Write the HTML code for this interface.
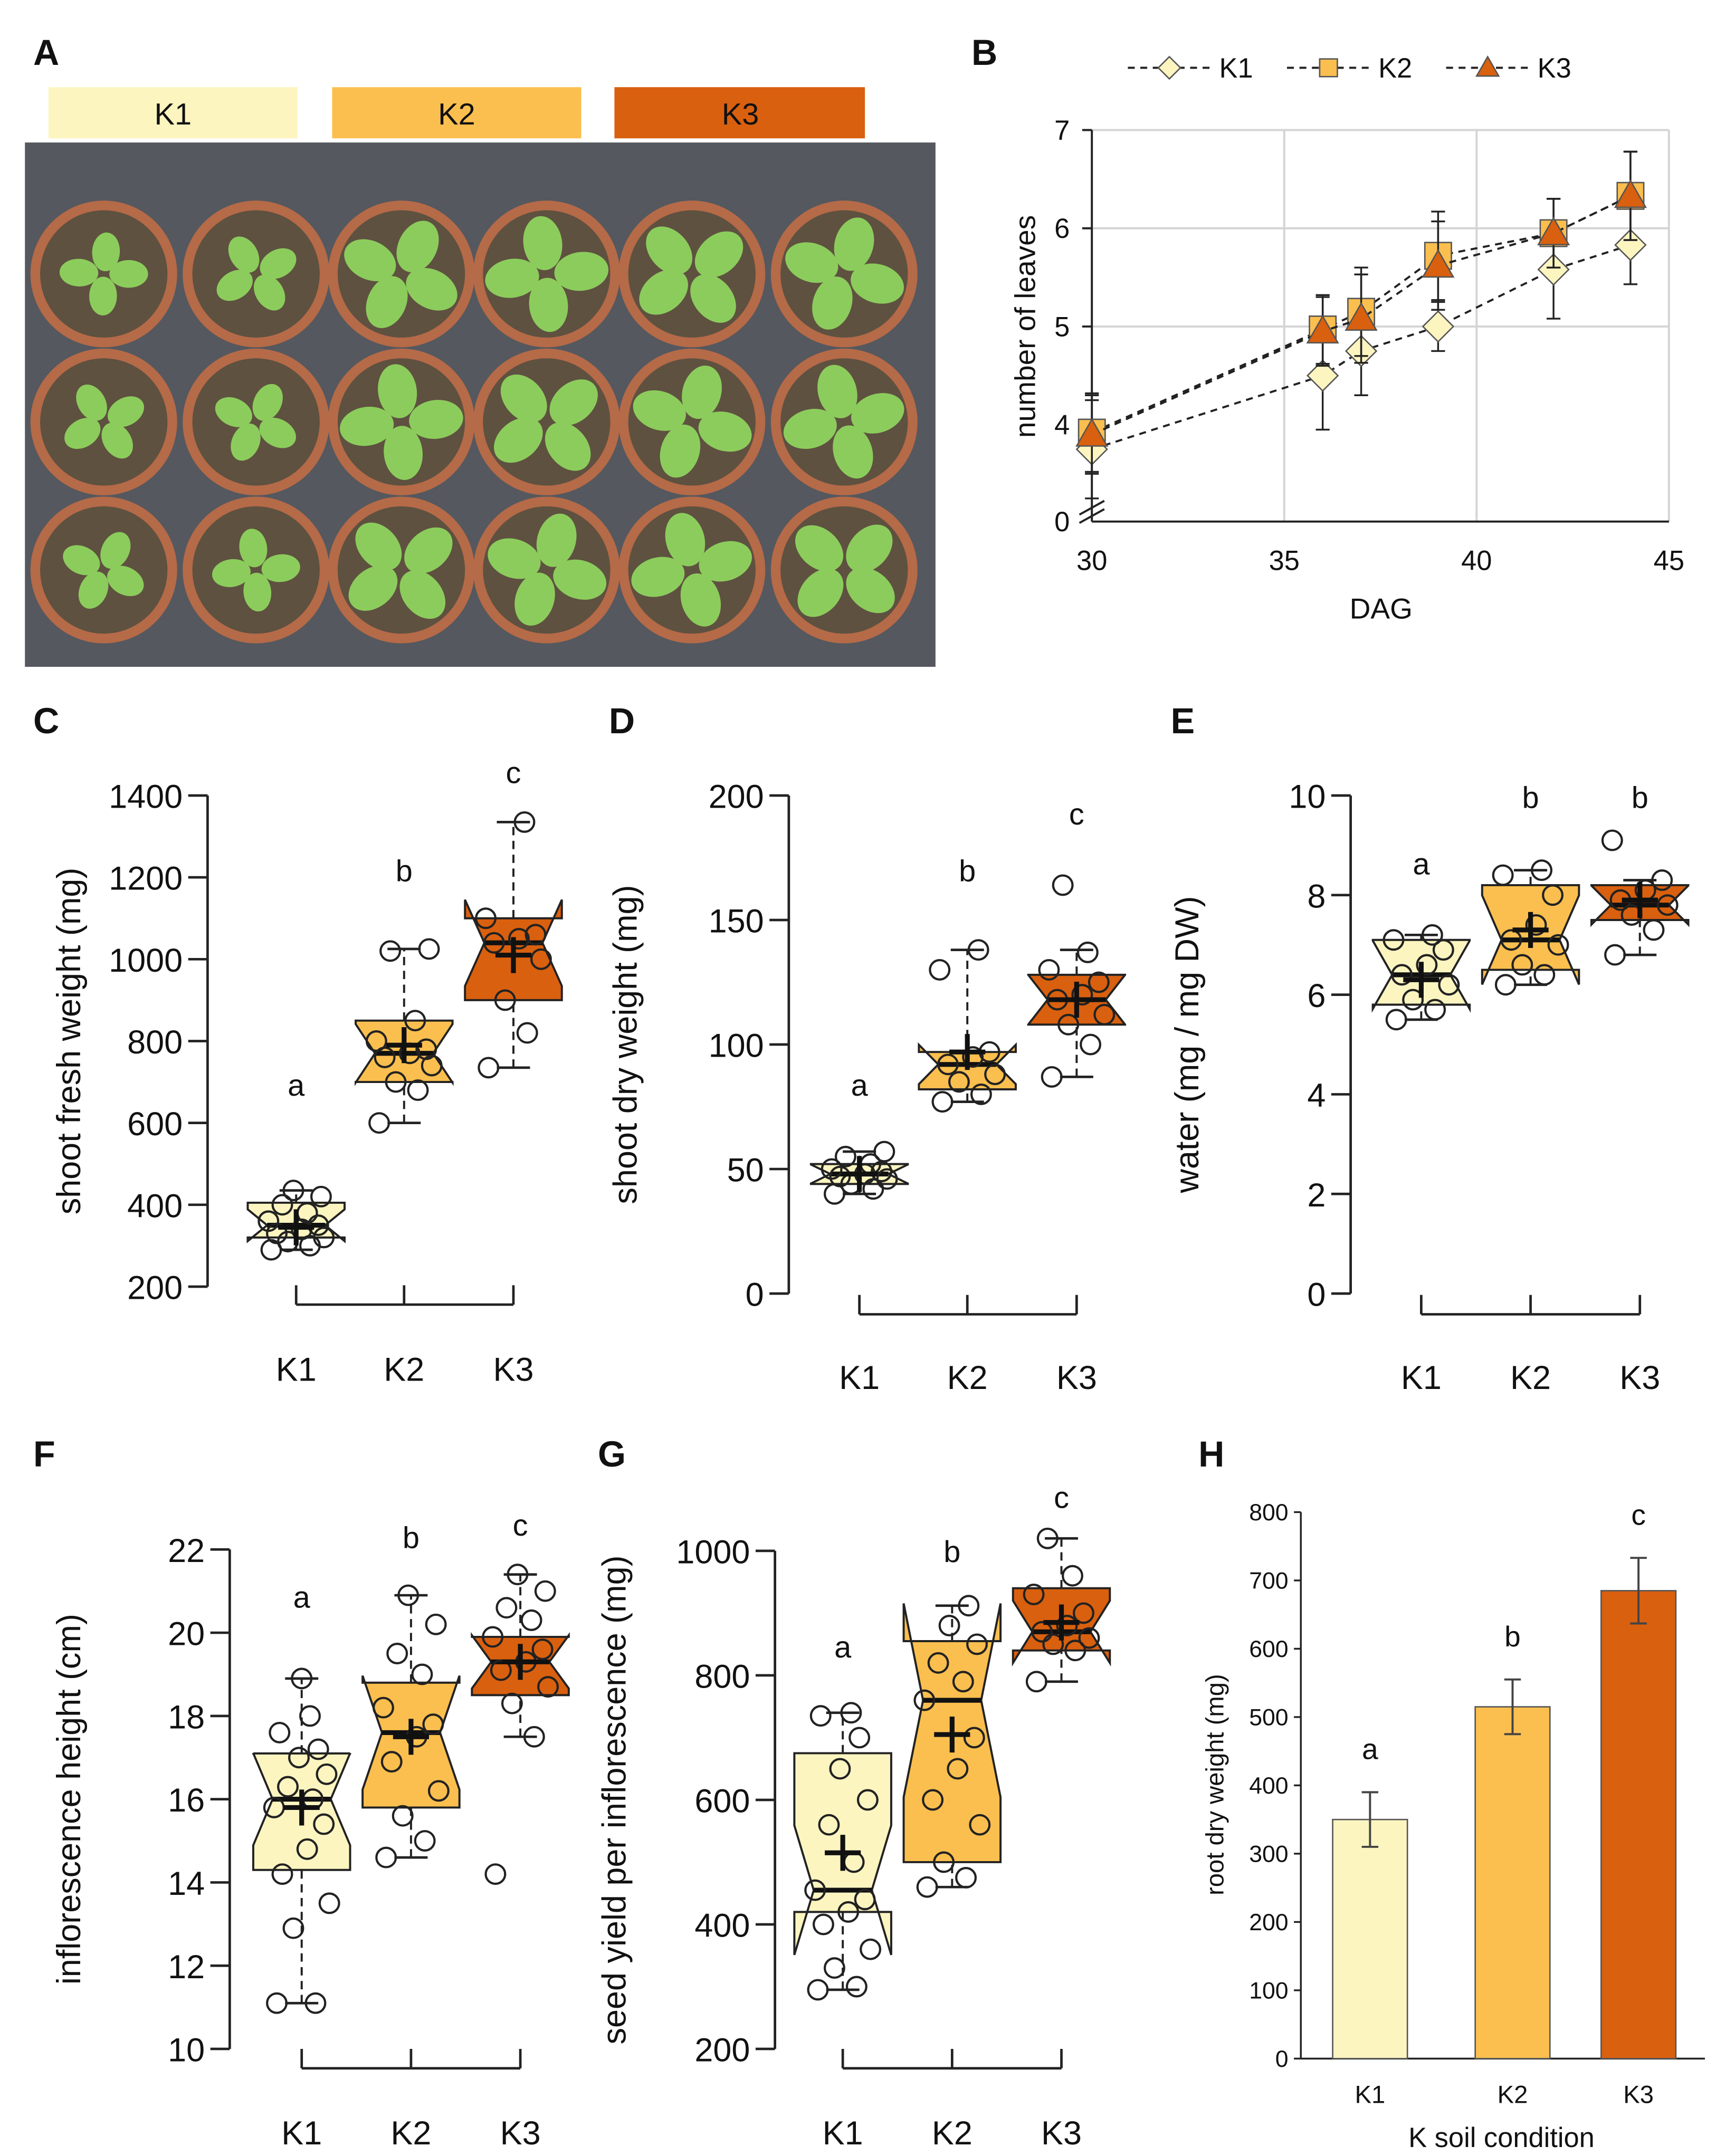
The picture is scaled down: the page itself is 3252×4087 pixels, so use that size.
<!DOCTYPE html>
<html><head><meta charset="utf-8"><style>
html,body{margin:0;padding:0;background:#fff}
svg{display:block}
text{font-family:"Liberation Sans",sans-serif;fill:#111}
</style></head><body>
<svg id="fig" width="3252" height="4087" viewBox="0 0 1240 1558.4" xmlns="http://www.w3.org/2000/svg">
<g id="panelA">
<text x="24" y="47" font-size="26" font-weight="bold">A</text>
<rect x="35" y="63" width="180" height="37" fill="#fdf5c0"/>
<text x="125" y="90" font-size="22" text-anchor="middle">K1</text>
<rect x="240" y="63" width="180" height="37" fill="#fbbf4f"/>
<text x="330" y="90" font-size="22" text-anchor="middle">K2</text>
<rect x="444" y="63" width="181" height="37" fill="#d9600f"/>
<text x="535" y="90" font-size="22" text-anchor="middle">K3</text>
<rect x="18" y="103" width="658" height="379" fill="#55585e"/>
<g id="pots"></g>
</g>
<g id="panelB"></g>
<g id="boxes"></g>
<g id="panelH"></g>
</svg>
<script>
const NS="http://www.w3.org/2000/svg";
function mk(parent,tag,attrs,txt){const e=document.createElementNS(NS,tag);for(const k in attrs)e.setAttribute(k,attrs[k]);if(txt!==undefined)e.textContent=txt;parent.appendChild(e);return e;}

// ---- Panel A photo approximation ----
const pots=document.getElementById('pots');
const potCols=[75,185,290,395,500,610],potRows=[198,305,412];
potRows.forEach((cy,ri)=>potCols.forEach((cx,ci)=>{
  const c=mk(pots,'circle',{cx:cx,cy:cy,r:53,fill:'#b56a48'});
  
  
  mk(pots,'circle',{cx:cx,cy:cy,r:46,fill:'#5e5140'});
  const big=(ci>=2)?1.4:1;
  for(let k=0;k<4;k++){const a=k*1.6+ri+ci;mk(pots,'ellipse',{cx:cx+Math.cos(a)*18*big,cy:cy+Math.sin(a)*16*big,rx:14*big,ry:10*big,fill:'#8ccc5c',transform:`rotate(${a*57} ${cx+Math.cos(a)*18*big} ${cy+Math.sin(a)*16*big})`});}
}));

// ---- Panel B data ----
const dagB=[30,36,37,39,42,44];
const k1Leaves=[3.75,4.5,4.75,5.0,5.58,5.83];
const k1Err=[0.5,0.55,0.45,0.25,0.5,0.4];
const k2Leaves=[3.92,4.97,5.15,5.72,5.95,6.33];
const k2Err=[0.4,0.35,0.45,0.45,0.35,0.45];
const k3Leaves=[3.9,4.95,5.08,5.62,5.95,6.33];
const k3Err=[0.4,0.35,0.45,0.45,0.35,0.45];
const xTicksB=[30,35,40,45];
const yTicksB=[4,5,6,7];
(function(){
  const g=document.getElementById('panelB');
  const xs=v=>789+(v-30)*(1206-789)/15;
  const ys=v=>307-(v-4)*71;
  const t=mk(g,'text',{x:702,y:47,'font-size':26,'font-weight':'bold'},'B');
  
  
  yTicksB.forEach(v=>{if(v>4){const l=mk(g,'line',{x1:789,x2:1206,y1:ys(v),y2:ys(v),stroke:'#d4d4d4','stroke-width':1.5});}
    const tt=mk(g,'text',{x:773,y:ys(v)+7,'font-size':20,'text-anchor':'end'},v);});
  const z=mk(g,'text',{x:773,y:384,'font-size':20,'text-anchor':'end'},'0');
  xTicksB.forEach(v=>{if(v>30){const l=mk(g,'line',{x1:xs(v),x2:xs(v),y1:94,y2:377,stroke:'#d4d4d4','stroke-width':1.5});}
    const tt=mk(g,'text',{x:xs(v),y:412,'font-size':20,'text-anchor':'middle'},v);});
  mk(g,'line',{x1:789,x2:789,y1:94,y2:377,stroke:'#222','stroke-width':1.5});
  mk(g,'line',{x1:789,x2:1206,y1:377,y2:377,stroke:'#222','stroke-width':1.5});
  yTicksB.forEach(v=>mk(g,'line',{x1:782,x2:789,y1:ys(v),y2:ys(v),stroke:'#222','stroke-width':1.5}));
  mk(g,'line',{x1:780,x2:798,y1:372,y2:362,stroke:'#222','stroke-width':1.5});
  mk(g,'line',{x1:780,x2:798,y1:378,y2:368,stroke:'#222','stroke-width':1.5});
  const yl=mk(g,'text',{x:748,y:236,'font-size':21,'text-anchor':'middle',transform:'rotate(-90 748 236)'},'number of leaves');
  
  const xl=mk(g,'text',{x:998,y:447,'font-size':21,'text-anchor':'middle'},'DAG');
  
  const series=[[k1Leaves,k1Err,'#fdf5c0','dia','K1'],[k2Leaves,k2Err,'#fbbf4f','sq','K2'],[k3Leaves,k3Err,'#d9600f','tri','K3']];
  function marker(p,cx,cy,shape,fill,s){
    if(shape==='dia')return mk(p,'polygon',{points:`${cx},${cy-s} ${cx+s},${cy} ${cx},${cy+s} ${cx-s},${cy}`,fill:fill,stroke:'#555','stroke-width':1});
    if(shape==='sq')return mk(p,'rect',{x:cx-s*0.8,y:cy-s*0.8,width:s*1.6,height:s*1.6,fill:fill,stroke:'#555','stroke-width':1});
    return mk(p,'polygon',{points:`${cx},${cy-s} ${cx+s},${cy+s*0.75} ${cx-s},${cy+s*0.75}`,fill:fill,stroke:'#555','stroke-width':1});
  }
  series.forEach(([vals,err,col,sh,name],si)=>{
    const sg=mk(g,'g',{});
    mk(sg,'polyline',{points:vals.map((v,i)=>xs(dagB[i])+','+ys(v)).join(' '),fill:'none',stroke:'#222','stroke-width':1.5,'stroke-dasharray':'5,4'});
    vals.forEach((v,i)=>{const x=xs(dagB[i]);
      mk(sg,'line',{x1:x,x2:x,y1:ys(v-err[i]),y2:ys(v+err[i]),stroke:'#222','stroke-width':1.3});
      mk(sg,'line',{x1:x-5,x2:x+5,y1:ys(v-err[i]),y2:ys(v-err[i]),stroke:'#222','stroke-width':1.3});
      mk(sg,'line',{x1:x-5,x2:x+5,y1:ys(v+err[i]),y2:ys(v+err[i]),stroke:'#222','stroke-width':1.3});
      const m=marker(sg,x,ys(v),sh,col,sh==='sq'?12:11);});
    const lx=[815,930,1045][si];
    const lg=mk(g,'g',{});
    mk(lg,'line',{x1:lx,x2:lx+60,y1:49,y2:49,stroke:'#222','stroke-width':1.5,'stroke-dasharray':'5,4'});
    marker(lg,lx+30,49,sh,col,8);
    mk(lg,'text',{x:lx+66,y:56,'font-size':20},name);
  });
})();

// ---- Boxplot panels C-G data ----
const cats=['K1','K2','K3'];
const cK1=[290,300,310,320,330,340,350,360,380,400,420,435];
const cK2=[600,680,700,740,760,770,780,800,850,1020,1025];
const cK3=[735,820,900,1000,1040,1050,1060,1100,1335];
const cStats=[[290,320,350,405,435,345],[600,700,770,850,1025,790],[735,900,1040,1100,1335,1010]];
const cLetters=['a','b','c'];
const cTicks=[200,400,600,800,1000,1200,1400];
const dK1=[40,42,44,46,47,48,49,50,52,55,57];
const dK2=[77,80,85,88,92,95,97,130,138];
const dK3=[87,100,108,112,118,120,125,130,137,164];
const dStats=[[40,44,48,52,57,48],[77,82,92,97,138,97],[87,108,118,128,138,118]];
const dLetters=['a','b','c'];
const dTicks=[0,50,100,150,200];
const eK1=[5.5,5.7,5.9,6.2,6.4,6.6,6.9,7.1,7.2];
const eK2=[6.2,6.4,6.6,7.0,7.1,7.4,8.0,8.4,8.5];
const eK3=[6.8,7.3,7.6,7.8,7.9,8.1,8.3,9.1];
const eStats=[[5.5,5.8,6.4,7.1,7.2,6.3],[6.2,6.5,7.1,8.2,8.5,7.3],[6.8,7.5,7.8,8.2,8.3,7.9]];
const eLetters=['a','b','b'];
const eTicks=[0,2,4,6,8,10];
const fK1=[11.1,11.1,12.9,13.5,14.2,14.8,15.4,15.8,16.0,16.3,16.6,17.0,17.2,17.6,18.0,18.9];
const fK2=[14.6,15.0,15.6,16.2,16.9,17.5,17.8,18.2,19.0,19.5,20.2,20.9];
const fK3=[14.2,17.5,18.3,18.7,19.1,19.3,19.6,19.9,20.3,20.6,21.0,21.4];
const fStats=[[11.1,14.3,16.0,17.1,18.9,15.8],[14.6,15.8,17.6,18.8,20.9,17.5],[17.5,18.5,19.3,19.9,21.4,19.3]];
const fLetters=['a','b','c'];
const fTicks=[10,12,14,16,18,20,22];
const gK1=[295,300,330,360,400,420,440,455,500,560,600,650,700,735,740];
const gK2=[460,475,500,560,600,650,700,760,790,820,850,880,912];
const gK3=[790,840,850,860,870,880,900,930,960,1020];
const gStats=[[295,420,455,675,740,515],[460,500,760,855,912,705],[790,840,870,940,1020,885]];
const gLetters=['a','b','c'];
const gTicks=[200,400,600,800,1000];
const colors=['#fdf5c0','#fbbf4f','#d9600f'];

const panels=[
 {id:'c',label:'C',lx:24,ly:530,ax:150,v0:200,v1:1400,y0:930,y1:575,cx:[214,292,371],pts:[cK1,cK2,cK3],st:cStats,let:cLetters,lety:[792,637,566],ticks:cTicks,title:'shoot fresh weight (mg)',tx:58,bry:943,cty:998},
 {id:'d',label:'D',lx:440,ly:530,ax:570,v0:0,v1:200,y0:935,y1:575,cx:[621,699,778],pts:[dK1,dK2,dK3],st:dStats,let:dLetters,lety:[792,637,596],ticks:dTicks,title:'shoot dry weight (mg)',tx:460,bry:950,cty:1004},
 {id:'e',label:'E',lx:846,ly:530,ax:976,v0:0,v1:10,y0:935,y1:575,cx:[1027,1106,1185],pts:[eK1,eK2,eK3],st:eStats,let:eLetters,lety:[632,584,584],ticks:eTicks,title:'water (mg / mg DW)',tx:866,bry:950,cty:1004},
 {id:'f',label:'F',lx:24,ly:1060,ax:166,v0:10,v1:22,y0:1481,y1:1120,cx:[218,297,376],pts:[fK1,fK2,fK3],st:fStats,let:fLetters,lety:[1162,1119,1110],ticks:fTicks,title:'inflorescence height (cm)',tx:58,bry:1495,cty:1550},
 {id:'g',label:'G',lx:432,ly:1060,ax:560,v0:200,v1:1000,y0:1481,y1:1121,cx:[609,688,767],pts:[gK1,gK2,gK3],st:gStats,let:gLetters,lety:[1198,1129,1090],ticks:gTicks,title:'seed yield per inflorescence (mg)',tx:452,bry:1495,cty:1550}
];
const jit=[-18,10,-6,20,-14,4,16,-20,8,-10,18,-2,12,-16,6,0];
const root=document.getElementById('boxes');
panels.forEach(P=>{
  const g=mk(root,'g',{});
  
  
  const ys=v=>P.y0+(v-P.v0)*(P.y1-P.y0)/(P.v1-P.v0);
  const L=mk(g,'text',{x:P.lx,y:P.ly,'font-size':26,'font-weight':'bold'},P.label);
  
  mk(g,'line',{x1:P.ax,x2:P.ax,y1:P.y0,y2:P.y1,stroke:'#222','stroke-width':1.8});
  P.ticks.forEach(v=>{mk(g,'line',{x1:P.ax-14,x2:P.ax,y1:ys(v),y2:ys(v),stroke:'#222','stroke-width':1.8});
    const t=mk(g,'text',{x:P.ax-18,y:ys(v)+9,'font-size':24,'text-anchor':'end'},v);});
  const my=(P.y0+P.y1)/2;
  const tt=mk(g,'text',{x:P.tx,y:my,'font-size':24,'text-anchor':'middle',transform:`rotate(-90 ${P.tx} ${my})`},P.title);
  
  mk(g,'line',{x1:P.cx[0],x2:P.cx[2],y1:P.bry,y2:P.bry,stroke:'#222','stroke-width':1.8});
  P.cx.forEach((x,i)=>{mk(g,'line',{x1:x,x2:x,y1:P.bry-14,y2:P.bry,stroke:'#222','stroke-width':1.8});
    const t=mk(g,'text',{x:x,y:P.cty,'font-size':24,'text-anchor':'middle'},cats[i]);});
  P.st.forEach((s,i)=>{
    const [wl,q1,med,q3,wh,mean]=s;const x=P.cx[i];const hw=35;const n=P.pts[i].length;
    const nd=1.58*(q3-q1)/Math.sqrt(n);const nh=med+nd,nl=med-nd;
    const bg=mk(g,'g',{});
    mk(bg,'line',{x1:x,x2:x,y1:ys(wl),y2:ys(q1),stroke:'#222','stroke-width':1.5,'stroke-dasharray':'6,4'});
    mk(bg,'line',{x1:x,x2:x,y1:ys(q3),y2:ys(wh),stroke:'#222','stroke-width':1.5,'stroke-dasharray':'6,4'});
    mk(bg,'line',{x1:x-12,x2:x+12,y1:ys(wl),y2:ys(wl),stroke:'#222','stroke-width':1.8});
    mk(bg,'line',{x1:x-12,x2:x+12,y1:ys(wh),y2:ys(wh),stroke:'#222','stroke-width':1.8});
    const xi=hw*0.6;
    const pts=[[x-hw,q3],[x+hw,q3],[x+hw,nh],[x+xi,med],[x+hw,nl],[x+hw,q1],[x-hw,q1],[x-hw,nl],[x-xi,med],[x-hw,nh]];
    mk(bg,'polygon',{points:pts.map(p=>p[0]+','+ys(p[1])).join(' '),fill:colors[i],stroke:'#222','stroke-width':1.5});
    mk(bg,'line',{x1:x-xi,x2:x+xi,y1:ys(med),y2:ys(med),stroke:'#111','stroke-width':3.5});
    P.pts[i].forEach((v,k)=>{const off=jit[k%jit.length];
      const c=mk(bg,'circle',{cx:x+off,cy:ys(v),r:7,fill:'none',stroke:'#222','stroke-width':1.6});
      });
    mk(bg,'line',{x1:x-13,x2:x+13,y1:ys(mean),y2:ys(mean),stroke:'#111','stroke-width':3.5});
    mk(bg,'line',{x1:x,x2:x,y1:ys(mean)-13,y2:ys(mean)+13,stroke:'#111','stroke-width':3.5});
    const lt=mk(g,'text',{x:x,y:P.lety[i],'font-size':22,'text-anchor':'middle'},P.let[i]);
    
  });
});

// ---- Panel H ----
const hCats=['K1','K2','K3'];
const hVals=[350,515,685];
const hErr=[40,40,48];
const hLetters=['a','b','c'];
const hTicks=[0,100,200,300,400,500,600,700,800];
(function(){
  const g=document.getElementById('panelH');
  const ys=v=>1488-v*(1488-1093)/800;const cx=[990,1093,1184];const ax=940;
  const L=mk(g,'text',{x:866,y:1060,'font-size':26,'font-weight':'bold'},'H');
  mk(g,'line',{x1:ax,x2:ax,y1:1488,y2:1093,stroke:'#222','stroke-width':1.3});
  mk(g,'line',{x1:ax,x2:1232,y1:1488,y2:1488,stroke:'#222','stroke-width':1.3});
  hTicks.forEach(v=>{mk(g,'line',{x1:ax-5,x2:ax,y1:ys(v),y2:ys(v),stroke:'#222','stroke-width':1.3});
    const t=mk(g,'text',{x:ax-9,y:ys(v)+6,'font-size':17,'text-anchor':'end'},v);});
  const yl=mk(g,'text',{x:884,y:1290,'font-size':18,'text-anchor':'middle',transform:'rotate(-90 884 1290)'},'root dry weight (mg)');
  const xl=mk(g,'text',{x:1085,y:1552,'font-size':20,'text-anchor':'middle'},'K soil condition');
  hVals.forEach((v,i)=>{const x=cx[i];
    const b=mk(g,'rect',{x:x-27,y:ys(v),width:54,height:ys(0)-ys(v),fill:colors[i],stroke:'#555','stroke-width':1});
    
    mk(g,'line',{x1:x,x2:x,y1:ys(v-hErr[i]),y2:ys(v+hErr[i]),stroke:'#444','stroke-width':1.5});
    mk(g,'line',{x1:x-6,x2:x+6,y1:ys(v-hErr[i]),y2:ys(v-hErr[i]),stroke:'#444','stroke-width':1.5});
    mk(g,'line',{x1:x-6,x2:x+6,y1:ys(v+hErr[i]),y2:ys(v+hErr[i]),stroke:'#444','stroke-width':1.5});
    const t=mk(g,'text',{x:x,y:1520,'font-size':18,'text-anchor':'middle'},hCats[i]);
    const lt=mk(g,'text',{x:x,y:ys(v+hErr[i])-24,'font-size':21,'text-anchor':'middle'},hLetters[i]);
  });
})();
</script>
</body></html>
